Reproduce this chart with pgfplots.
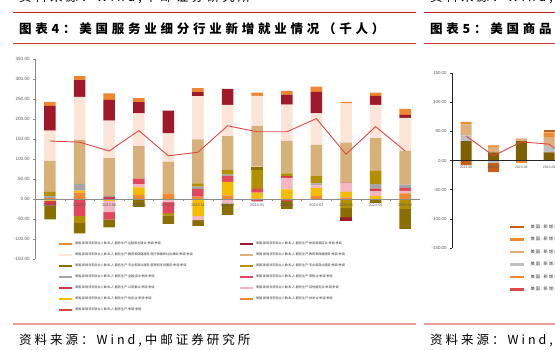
\documentclass[border=0pt]{standalone}
\usepackage{fontspec}
\setmainfont{Liberation Sans}
\newfontfamily\cjk{Noto Sans CJK SC}
\newfontfamily\cjkls[LetterSpace=24]{Noto Sans CJK SC}
\newfontfamily\cjktt[LetterSpace=30]{Noto Sans CJK SC}
\usepackage{pgfplots}
\usepackage{pgfplotstable}
\pgfplotsset{compat=1.18}

\definecolor{cA}{HTML}{EF8632} % s1 orange (top)
\definecolor{cB}{HTML}{A0192B} % s2 dark red
\definecolor{cC}{HTML}{FCE5D7} % s3 peach
\definecolor{cD}{HTML}{D8B07A} % s4 tan
\definecolor{cE}{HTML}{8B6E00} % s5 dark olive
\definecolor{cF}{HTML}{B38F00} % s6 gold
\definecolor{cG}{HTML}{A5A5A5} % s7 grey
\definecolor{cH}{HTML}{E2475B} % s8 pink-red
\definecolor{cI}{HTML}{D43A4A} % s9 red
\definecolor{cJ}{HTML}{F4B6C1} % s10 light pink
\definecolor{cK}{HTML}{F5BC00} % s11 yellow
\definecolor{cL}{HTML}{EE8A32} % s12 orange (bottom)
\definecolor{lineR}{HTML}{E04848}
\definecolor{axgray}{HTML}{8C8C8C}
\definecolor{labgray}{HTML}{595959}
\definecolor{topred}{HTML}{C0252A}
\definecolor{midred}{HTML}{D0383D}
\definecolor{botred}{HTML}{E89A9A}
% figure 5 colours
\definecolor{fOl}{HTML}{7F6000}
\definecolor{fGr}{HTML}{BFBFBF}
\definecolor{fTa}{HTML}{DDB07C}
\definecolor{fOr}{HTML}{F08A2E}
\definecolor{fDk}{HTML}{C5601A}

% Figure 4 data (thousands); s1 = top of positive stack ... s12 = bottom
\pgfplotstableread{
x s1 s2 s3 s4 s5 s6 s7 s8 s9 s10 s11 s12 total
0 10 62 76 77 -35 10 6 0 -12 0 -4 2 145
1 10 42 107 110 -26 -18 17 -42 0 0 5 16 142
2 16 52 94 94 -20 0 3 -18 5 -28 -5 0 120
3 10 28 82 81 -20 0 0 14 0 8 19 10 171
4 0 57 71 79 -21 -6 0 -27 0 -8 0 14 108
5 10 10 108 110 -14 8 6 19 0 -10 -43 6 117
6 0 40 78 84 -28 12 4 14 0 -12 34 9 183
7 8 0 75 102 8 48 0 9 -3 -3 15 1 168
8 9 25 91 81 -20 7 0 -5 4 29 24 0 168
9 13 54 79 78 0 18 5 0 0 6 20 8 201
10 4 -9 98 100 -23 -23 0 0 2 21 14 4 112
11 8 23 83 82 -10 32 12 0 6 12 8 0 181
12 15 7 83 84 -50 -25 8 8 0 6 0 14 120
}\dataA

% Figure 5 data (partially visible)
\pgfplotstableread{
x f1 f2 f3 f4 f5 total
0 33 10 19 4 -8 42
1 14 -4 9 3 -16 8
2 33 0 5 -4 0 32
3 14 11 15 8 4 28
4 6 -3 4 0 -12 -9
}\dataB

\newcommand{\posbar}[3]{\addplot[fill=#2, draw=none] table[x=x, y expr={max(\thisrow{#1},0)}] {#3};}
\newcommand{\negbar}[3]{\addplot[fill=#2, draw=none] table[x=x, y expr={min(\thisrow{#1},0)}] {#3};}

\pgfplotsset{
  figfour/.style={
    at={(35.2pt,91pt)}, anchor=south west,
    scale only axis, width=384.8pt, height=200pt,
    xmin=-0.5, xmax=12.5, ymin=-150, ymax=350,
  },
  figfive/.style={
    at={(452.15pt,102pt)}, anchor=south west,
    scale only axis, width=360.1pt, height=175pt,
    xmin=-0.5, xmax=12.5, ymin=-150, ymax=150,
  },
}

\begin{document}
\begin{tikzpicture}
\useasboundingbox (0pt,0pt) rectangle (555pt,350pt);
\fill[white] (0pt,0pt) rectangle (555pt,350pt);

% ---------- page decorations ----------
\node[anchor=west, inner sep=0pt, font=\cjkls\fontsize{12.5}{14}\selectfont] at (19pt,353pt) {资料来源：Wind,中邮证券研究所};
\node[anchor=west, inner sep=0pt, font=\cjkls\fontsize{12.5}{14}\selectfont] at (430pt,353pt) {资料来源：Wind,中邮证券研究所};
\draw[topred, line width=1.6pt] (13pt,337.3pt) -- (416pt,337.3pt);
\draw[topred, line width=1.6pt] (424pt,337.3pt) -- (560pt,337.3pt);
\node[anchor=west, inner sep=0pt, font=\cjktt\bfseries\fontsize{12.5}{14}\selectfont] at (19pt,321.5pt) {图表4：美国服务业细分行业新增就业情况（千人）};
\node[anchor=west, inner sep=0pt, font=\cjktt\bfseries\fontsize{12.5}{14}\selectfont] at (430pt,321.5pt) {图表5：美国商品生产细分行业新增就业情况（千人）};
\draw[midred, line width=0.8pt] (13pt,306.7pt) -- (416pt,306.7pt);
\draw[midred, line width=0.8pt] (424pt,306.7pt) -- (560pt,306.7pt);
\draw[botred, line width=1.5pt] (13pt,26pt) -- (416pt,26pt);
\draw[botred, line width=1.5pt] (424pt,26pt) -- (560pt,26pt);
\node[anchor=west, inner sep=0pt, font=\cjkls\fontsize{12.5}{14}\selectfont] at (19pt,10pt) {资料来源：Wind,中邮证券研究所};
\node[anchor=west, inner sep=0pt, font=\cjkls\fontsize{12.5}{14}\selectfont] at (430pt,10pt) {资料来源：Wind,中邮证券研究所};

% ---------- Figure 4: negative parts ----------
\begin{axis}[figfour, hide axis, ybar stacked, bar width=11.5pt]
\negbar{s12}{cL}{\dataA}
\negbar{s11}{cK}{\dataA}
\negbar{s10}{cJ}{\dataA}
\negbar{s9}{cI}{\dataA}
\negbar{s8}{cH}{\dataA}
\negbar{s7}{cG}{\dataA}
\negbar{s6}{cF}{\dataA}
\negbar{s5}{cE}{\dataA}
\negbar{s4}{cD}{\dataA}
\negbar{s3}{cC}{\dataA}
\negbar{s2}{cB}{\dataA}
\negbar{s1}{cA}{\dataA}
\end{axis}

% ---------- Figure 4: positive parts + axes ----------
\begin{axis}[figfour, ybar stacked, bar width=11.5pt,
  axis on top,
  axis x line*=middle, axis y line*=left,
  x axis line style={draw=axgray, line width=0.5pt},
  y axis line style={draw=axgray, line width=0.5pt},
  xtick={0,...,12},
  xticklabels={2023-06,2023-07,2023-08,2023-09,2023-10,2023-11,2023-12,2024-01,2024-02,2024-03,2024-04,2024-05,2024-06},
  major x tick style={draw=none},
  minor xtick={0.5,1.5,...,11.5},
  minor x tick style={draw=axgray, line width=0.4pt},
  minor tick length=2pt,
  ytick={-150,-100,...,350},
  tick align=outside, major tick length=2pt,
  y tick style={draw=axgray, line width=0.4pt},
  scaled y ticks=false,
  yticklabel style={/pgf/number format/fixed, /pgf/number format/fixed zerofill, /pgf/number format/precision=2, /pgf/number format/assume math mode=true, font=\fontsize{4.6}{5}\selectfont, text=labgray},
  xticklabel style={font=\fontsize{3.8}{4.2}\selectfont, text=labgray, yshift=0.5pt},
]
\posbar{s12}{cL}{\dataA}
\posbar{s11}{cK}{\dataA}
\posbar{s10}{cJ}{\dataA}
\posbar{s9}{cI}{\dataA}
\posbar{s8}{cH}{\dataA}
\posbar{s7}{cG}{\dataA}
\posbar{s6}{cF}{\dataA}
\posbar{s5}{cE}{\dataA}
\posbar{s4}{cD}{\dataA}
\posbar{s3}{cC}{\dataA}
\posbar{s2}{cB}{\dataA}
\posbar{s1}{cA}{\dataA}
\end{axis}

% ---------- Figure 4: total line + legend ----------
\begin{axis}[figfour, hide axis,
  legend columns=2,
  legend cell align=left,
  legend image code/.code={\draw[line width=2pt,#1] (0pt,0pt) -- (13pt,0pt);},
  legend style={at={(axis description cs:0.0593,0.1025)}, anchor=north west,
    draw=none, fill=none, inner sep=0pt, outer sep=0pt, row sep=0pt, column sep=2pt,
    font=\cjk\fontsize{3.1}{3.8}\selectfont, text=black!80,
    nodes={inner sep=0pt, text width=162pt, minimum height=11pt, align=left}},
]
\addlegendimage{cA}\addlegendentry{美国:新增非农就业人数:私人:服务生产:运输和仓储业:季调:季调}
\addlegendimage{cB}\addlegendentry{美国:新增非农就业人数:私人:服务生产:休闲和酒店业:季调:季调}
\addlegendimage{cC}\addlegendentry{美国:新增非农就业人数:私人:服务生产:教育和保健服务:医疗保健和社会救助:季调:季调}
\addlegendimage{cD}\addlegendentry{美国:新增非农就业人数:私人:服务生产:教育和保健服务:季调:季调}
\addlegendimage{cE}\addlegendentry{美国:新增非农就业人数:私人:服务生产:专业和商业服务:管理和支持服务:季调:季调}
\addlegendimage{cF}\addlegendentry{美国:新增非农就业人数:私人:服务生产:专业和商业服务:季调:季调}
\addlegendimage{cG}\addlegendentry{美国:新增非农就业人数:私人:服务生产:金融活动:季调:季调}
\addlegendimage{cH}\addlegendentry{美国:新增非农就业人数:私人:服务生产:零售业:季调:季调}
\addlegendimage{cI}\addlegendentry{美国:新增非农就业人数:私人:服务生产:公用事业:季调:季调}
\addlegendimage{cJ}\addlegendentry{美国:新增非农就业人数:私人:服务生产:其他服务业:季调:季调}
\addlegendimage{cK}\addlegendentry{美国:新增非农就业人数:私人:服务生产:信息业:季调:季调}
\addlegendimage{cL}\addlegendentry{美国:新增非农就业人数:私人:服务生产:批发业:季调:季调}
\addplot[lineR, line width=0.9pt] table[x=x, y=total] {\dataA};
\addlegendentry{美国:新增非农就业人数:私人:服务生产:季调:季调}
\end{axis}

% ---------- Figure 5 (cut off at the right edge) ----------
\begin{axis}[figfive, hide axis, ybar stacked, bar width=11pt]
\negbar{f1}{fOl}{\dataB}
\negbar{f2}{fGr}{\dataB}
\negbar{f3}{fTa}{\dataB}
\negbar{f4}{fOr}{\dataB}
\negbar{f5}{fDk}{\dataB}
\end{axis}
\begin{axis}[figfive, ybar stacked, bar width=11pt,
  axis on top,
  axis x line*=middle, axis y line*=left,
  x axis line style={draw=black!85, line width=0.8pt},
  y axis line style={draw=black!85, line width=0.8pt},
  xtick={0,...,4},
  xticklabels={2023-06,2023-07,2023-08,2023-09,2023-10},
  major x tick style={draw=none},
  ytick={-150,-100,...,150},
  tick align=outside, major tick length=2pt,
  y tick style={draw=black!85, line width=0.4pt},
  scaled y ticks=false,
  yticklabel style={/pgf/number format/fixed, /pgf/number format/fixed zerofill, /pgf/number format/precision=2, /pgf/number format/assume math mode=true, font=\fontsize{4.4}{5}\selectfont, text=labgray},
  xticklabel style={font=\fontsize{3.4}{4}\selectfont, text=labgray},
]
\posbar{f1}{fOl}{\dataB}
\posbar{f2}{fGr}{\dataB}
\posbar{f3}{fTa}{\dataB}
\posbar{f4}{fOr}{\dataB}
\posbar{f5}{fDk}{\dataB}
\end{axis}
\begin{axis}[figfive, hide axis,
  legend cell align=left,
  legend image code/.code={\draw[line width=2.6pt,#1] (0pt,0pt) -- (14pt,0pt);},
  legend style={at={(axis description cs:0.1579,0.1557)}, anchor=north west,
    draw=none, fill=none, inner sep=0pt, outer sep=0pt, row sep=0pt, column sep=5pt,
    font=\cjkls\fontsize{4.3}{5}\selectfont, text=black!80,
    nodes={inner sep=0pt, text width=150pt, minimum height=12.5pt, align=left}},
]
\addlegendimage{fDk}\addlegendentry{美国:新增非农就业人数:私人:商品生产:耐用品:季调}
\addlegendimage{fOr}\addlegendentry{美国:新增非农就业人数:私人:商品生产:非耐用品:季调}
\addlegendimage{fTa}\addlegendentry{美国:新增非农就业人数:私人:商品生产:建筑业:季调}
\addlegendimage{fGr}\addlegendentry{美国:新增非农就业人数:私人:商品生产:采矿业:季调}
\addlegendimage{fOr}\addlegendentry{美国:新增非农就业人数:私人:商品生产:制造业:季调}
\addplot[lineR, line width=0.9pt] table[x=x, y=total] {\dataB};
\addlegendentry{美国:新增非农就业人数:私人:商品生产:季调}
\end{axis}
\end{tikzpicture}
\end{document}
